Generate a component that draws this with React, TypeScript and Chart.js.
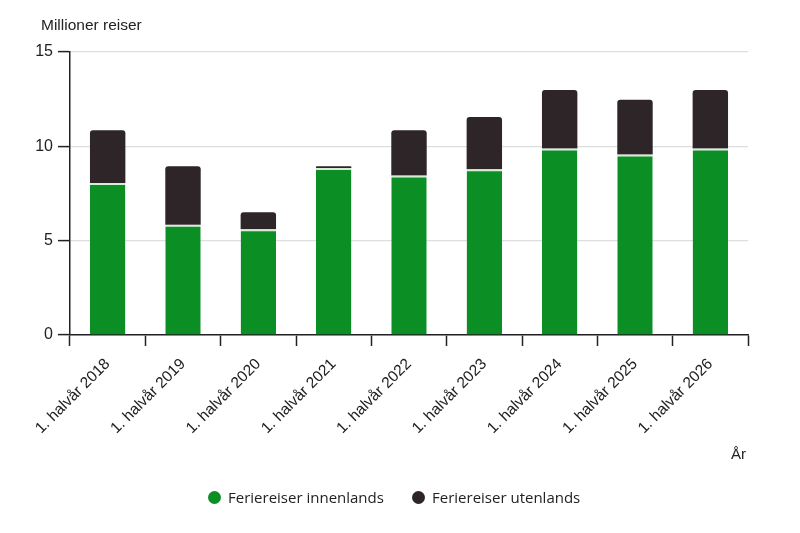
import { useEffect, useRef } from 'react';
import { Chart, registerables } from 'chart.js';

Chart.register(...registerables);

const categories = [
  '1. halvår 2018', '1. halvår 2019', '1. halvår 2020', '1. halvår 2021', '1. halvår 2022',
  '1. halvår 2023', '1. halvår 2024', '1. halvår 2025', '1. halvår 2026',
];
const innenlands = [8.05, 5.85, 5.6, 8.85, 8.45, 8.78, 9.88, 9.57, 9.88];
const utenlands = [2.8, 3.1, 0.9, 0.1, 2.4, 2.78, 3.1, 2.9, 3.1];
const yTicks = [0, 5, 10, 15];
const seriesNames = ['Feriereiser innenlands', 'Feriereiser utenlands'];

const GREEN = '#0b8f25';
const DARK = '#2e2528';
const TEXT = '#222222';
const FONT = '"Liberation Sans", Arial, sans-serif';

export default function App() {
  const canvasRef = useRef<HTMLCanvasElement>(null);

  useEffect(() => {
    document.body.style.margin = '0';
    const chart = new Chart(canvasRef.current!, {
      type: 'bar',
      data: {
        labels: categories,
        datasets: [
          {
            label: seriesNames[0],
            data: innenlands,
            backgroundColor: GREEN,
            borderColor: '#d6ecd6',
            borderWidth: { top: 2, left: 0, right: 0, bottom: 0 },
            borderSkipped: 'start',
            stack: 's',
          },
          {
            label: seriesNames[1],
            data: utenlands,
            backgroundColor: DARK,
            borderWidth: 0,
            borderRadius: 3,
            borderSkipped: 'start',
            stack: 's',
          },
        ],
      },
      options: {
        animation: false,
        responsive: false,
        maintainAspectRatio: false,
        layout: { padding: { top: 52, right: 52, bottom: 0, left: 0 } },
        datasets: { bar: { categoryPercentage: 1, barPercentage: 0.47 } },
        plugins: {
          tooltip: { enabled: false },
          legend: { display: false },
        },
        scales: {
          x: {
            stacked: true,
            offset: true,
            afterFit: (s: any) => { s.height = 198; },
            grid: {
              offset: true,
              drawOnChartArea: false,
              drawTicks: true,
              tickLength: 11,
              tickColor: TEXT,
              tickWidth: 1.5,
            },
            border: { display: true, color: TEXT, width: 1.5 },
            ticks: {
              minRotation: 45,
              maxRotation: 45,
              autoSkip: false,
              padding: 9,
              color: TEXT,
              font: { family: FONT, size: 15.5 },
            },
          },
          y: {
            stacked: true,
            min: 0,
            max: 15,
            afterFit: (s: any) => { s.width = 70; },
            afterBuildTicks: (s: any) => { s.ticks = yTicks.map((v) => ({ value: v })); },
            grid: {
              color: '#dedede',
              lineWidth: 1.2,
              drawTicks: true,
              tickLength: 12,
              tickColor: TEXT,
              tickWidth: 1.5,
            },
            border: { display: true, color: TEXT, width: 1.5 },
            ticks: {
              padding: 5,
              color: TEXT,
              font: { family: FONT, size: 16 },
            },
          },
        },
      },
    });
    return () => chart.destroy();
  }, []);

  const legendItem = (left: number, color: string, text: string) => (
    <div style={{ position: 'absolute', left, top: 487, display: 'flex', alignItems: 'center', height: 20,
      fontFamily: '"Open Sans", sans-serif', fontSize: 15, color: TEXT, whiteSpace: 'nowrap' }}>
      <span style={{ display: 'inline-block', width: 13, height: 13, borderRadius: '50%', background: color, marginRight: 7 }} />
      {text}
    </div>
  );

  return (
    <div style={{ position: 'fixed', left: 0, top: 0, width: 800, height: 533, background: '#fff' }}>
      <canvas ref={canvasRef} width={800} height={533} style={{ width: 800, height: 533 }} />
      <div style={{ position: 'absolute', left: 41, top: 16, fontFamily: FONT, fontSize: 15.5, color: TEXT }}>
        Millioner reiser
      </div>
      <div style={{ position: 'absolute', left: 731, top: 445, fontFamily: FONT, fontSize: 15, color: TEXT }}>
        År
      </div>
      {legendItem(208, GREEN, seriesNames[0])}
      {legendItem(412, DARK, seriesNames[1])}
    </div>
  );
}
